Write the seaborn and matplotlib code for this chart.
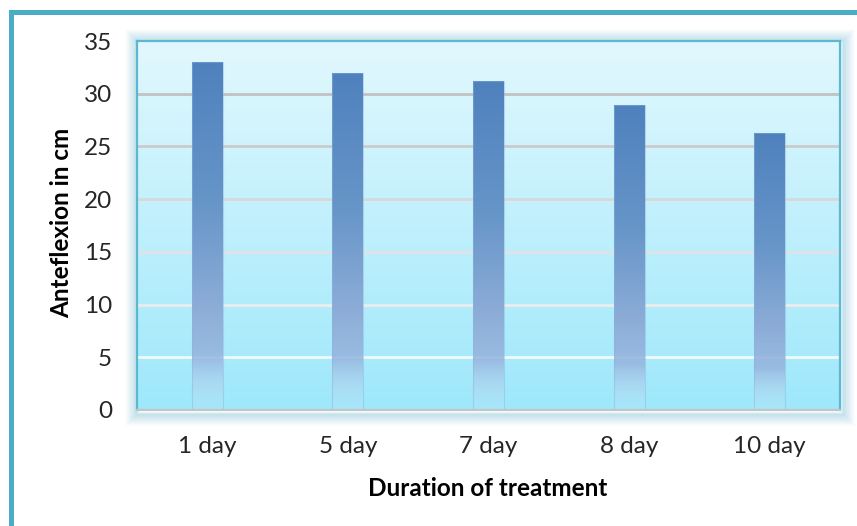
import numpy as np
import pandas as pd
import matplotlib
matplotlib.use("Agg")
import matplotlib.pyplot as plt
from matplotlib.patches import Rectangle
import seaborn as sns

# Data
durations = ["1 day", "5 day", "7 day", "8 day", "10 day"]
anteflexion_cm = [33.0, 32.0, 31.2, 28.9, 26.3]
y_ticks = [0, 5, 10, 15, 20, 25, 30, 35]

df = pd.DataFrame({"Duration of treatment": durations,
                   "Anteflexion in cm": anteflexion_cm})

sns.set_theme(style="white")
plt.rcParams["font.family"] = ["Lato", "DejaVu Sans"]

W, H = 857, 526
fig = plt.figure(figsize=(W / 100, H / 100), dpi=100)
fig.patch.set_facecolor("white")

# plot area in pixel coordinates
L, R, T, B = 137, 840, 41, 410
ax = fig.add_axes([L / W, 1 - B / H, (R - L) / W, (B - T) / H])

# outer frame (runs off the right and bottom edges)
fig.patches.append(Rectangle((10.5 / W, -0.2), 1.5, 1 - 11.5 / H + 0.2,
                             transform=fig.transFigure, fill=False,
                             edgecolor="#4bacc6", linewidth=3.6, zorder=-5))

# soft glow around the plot area
for i in range(1, 13):
    a = 0.14 * (1 - i / 13)
    fig.patches.append(Rectangle(((L - i + 1) / W, 1 - (B + i + 2) / H),
                                 (R - L + 2 * i) / W, (B - T + 2 * i + 1) / H,
                                 transform=fig.transFigure, fill=False,
                                 edgecolor="#3a9fbf", linewidth=2.0,
                                 alpha=a, zorder=-4))

sns.barplot(data=df, x="Duration of treatment", y="Anteflexion in cm",
            color="#4f81bd", width=0.22, ax=ax, zorder=3, saturation=1)

ax.set_ylim(0, 35)
ax.set_xlim(-0.5, len(durations) - 0.5)

# background gradient of the plot area
bg = np.linspace(0, 1, 256)[:, None]
top_c = np.array([226, 248, 254]) / 255
bot_c = np.array([158, 232, 251]) / 255
bg_img = (bot_c[None, None, :] * (1 - bg[..., None]) + top_c[None, None, :] * bg[..., None])
ax.imshow(np.repeat(bg_img, 2, axis=1), extent=[-0.5, len(durations) - 0.5, 0, 35],
          origin="lower", aspect="auto", zorder=0)
ax.patch.set_visible(False)

# gridlines, darker near the top where the background is lighter
grid_cols = {5: "#f2f9fb", 10: "#ececec", 15: "#e2e2e2", 20: "#d8d8d8",
             25: "#cbcbcb", 30: "#c2c2c2"}
for yv, c in grid_cols.items():
    ax.axhline(yv, color=c, linewidth=2.0, zorder=1)

# vertical gradient fill of each bar
stops = np.array([0.0, 0.15, 0.3, 0.6, 1.0])
cols = np.array([
    [200, 226, 246, 0.15 * 255],
    [150, 180, 222, 0.85 * 255],
    [140, 172, 215, 255],
    [102, 149, 200, 255],
    [79, 129, 189, 255],
]) / 255
fr = np.linspace(0, 1, 256)
grad = np.stack([np.interp(fr, stops, cols[:, k]) for k in range(4)], axis=1)
grad_img = grad[:, None, :].repeat(2, axis=1)
for p in ax.patches:
    x0, w, h = p.get_x(), p.get_width(), p.get_height()
    p.set_facecolor("none")
    p.set_edgecolor((0.55, 0.7, 0.87, 0.45))
    p.set_linewidth(0.8)
    im = ax.imshow(grad_img, extent=[x0, x0 + w, 0, h], origin="lower",
                   aspect="auto", zorder=2)
    im.set_clip_path(p)
ax.set_xlim(-0.5, len(durations) - 0.5)
ax.set_ylim(0, 35)

# spines
for s in ["left", "right", "top"]:
    ax.spines[s].set_color("#5bb8d0")
    ax.spines[s].set_linewidth(1.6)
ax.spines["bottom"].set_color("#c4c4c4")
ax.spines["bottom"].set_linewidth(1.6)
for s in ax.spines.values():
    s.set_zorder(6)

ax.set_yticks(y_ticks)
ax.set_yticklabels([str(v) for v in y_ticks])
ax.tick_params(axis="y", length=0, pad=18, labelsize=17.5, labelcolor="#262626")
ax.tick_params(axis="x", length=0, pad=19, labelsize=17.5, labelcolor="#262626")

ax.set_xlabel("Duration of treatment", fontsize=17.5, fontweight="bold", color="black")
ax.set_ylabel("Anteflexion in cm", fontsize=17.5, fontweight="bold", color="black")
ax.xaxis.set_label_coords((488 - L) / (R - L), (B - 488) / (B - T))
ax.xaxis.label.set_va("center")
ax.yaxis.set_label_coords((62 - L) / (R - L), (B - 223) / (B - T))
ax.yaxis.label.set_va("center")

fig.savefig("out.png", dpi=100)
